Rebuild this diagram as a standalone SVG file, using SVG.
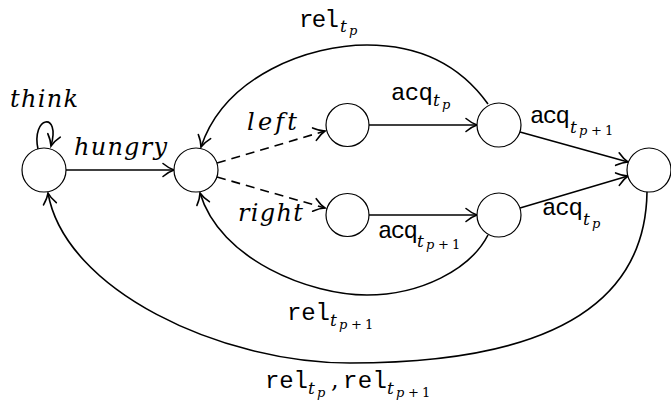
<svg xmlns="http://www.w3.org/2000/svg" width="671" height="402" viewBox="0 0 671 402">
<style>
.node{fill:#fff;stroke:#000;stroke-width:1.2}
.edge{fill:none;stroke:#000;stroke-width:1.6}
.dash{stroke-dasharray:9 6}
.mi{font-family:"DejaVu Serif","Liberation Serif",serif;font-style:italic}
.rm{font-family:"DejaVu Serif","Liberation Serif",serif}
.tt{font-family:"Liberation Mono","DejaVu Sans Mono",monospace;font-size:24px}
.s1{font-size:17px}
.s2{font-size:13px}
.big{font-size:24px}
</style>
<defs>
<marker id="arr" markerUnits="userSpaceOnUse" orient="auto" refX="0" refY="0" markerWidth="14" markerHeight="16" overflow="visible">
<path d="M -11 -6.5 C -7 -3.2, -2.5 -0.8, 0 0 C -2.5 0.8, -7 3.2, -11 6.5" fill="none" stroke="#000" stroke-width="1.6" stroke-linecap="round"/>
</marker>
</defs>
<g id="connectors">
<path class="edge" d="M 38 149 C 31 116, 61 111, 51 146" marker-end="url(#arr)"/>
<path class="edge" d="M 66 170 L 174 170" marker-end="url(#arr)"/>
<path class="edge dash" d="M 217 163 L 325 131" marker-end="url(#arr)"/>
<path class="edge dash" d="M 217 177 L 325 208" marker-end="url(#arr)"/>
<path class="edge" d="M 369 125 L 477 125" marker-end="url(#arr)"/>
<path class="edge" d="M 369 215 L 477 215" marker-end="url(#arr)"/>
<path class="edge" d="M 520 132 L 628 162" marker-end="url(#arr)"/>
<path class="edge" d="M 520 208 L 628 176" marker-end="url(#arr)"/>
<path class="edge" d="M 488 104 C 460 65, 420 45, 367 45 C 310 45, 225 75, 201 147" marker-end="url(#arr)"/>
<path class="edge" d="M 488 235 C 470 270, 420 295, 367 295 C 310 295, 220 260, 200 193" marker-end="url(#arr)"/>
<path class="edge" d="M 647 192 C 645 330, 500 363, 350 363 C 220 363, 65 290, 48 193" marker-end="url(#arr)"/>
</g>
<g id="n0"><circle class="node" cx="44" cy="170" r="22"/></g>
<g id="n1"><circle class="node" cx="196" cy="170" r="22"/></g>
<g id="n2"><circle class="node" cx="347.5" cy="125" r="21.5"/></g>
<g id="n3"><circle class="node" cx="347.5" cy="215" r="21.5"/></g>
<g id="n4"><circle class="node" cx="499" cy="125" r="22"/></g>
<g id="n5"><circle class="node" cx="499" cy="215" r="22"/></g>
<g id="n6"><circle class="node" cx="649" cy="170" r="22"/></g>
<g id="labels">
<text class="mi big" x="10" y="107" textLength="68">think</text>
<text class="mi big" x="74" y="155" textLength="93">hungry</text>
<text class="mi big" x="247" y="130" textLength="50">left</text>
<text class="mi big" x="238" y="221" textLength="65">right</text>
<text><tspan class="tt" x="299" y="27" textLength="40">rel</tspan><tspan class="mi s1" x="340" y="32">t</tspan><tspan class="mi s2" x="349" y="35">p</tspan></text>
<text><tspan class="tt" x="391" y="100" textLength="42">acq</tspan><tspan class="mi s1" x="433" y="106">t</tspan><tspan class="mi s2" x="442" y="109">p</tspan></text>
<text><tspan class="tt" x="530" y="123" textLength="40">acq</tspan><tspan class="mi s1" x="570" y="133">t</tspan><tspan class="mi s2" x="579" y="135">p</tspan><tspan class="rm s2" x="591" y="135">+</tspan><tspan class="rm s2" x="605" y="135">1</tspan></text>
<text><tspan class="tt" x="542" y="215" textLength="41">acq</tspan><tspan class="mi s1" x="583" y="225">t</tspan><tspan class="mi s2" x="592" y="228">p</tspan></text>
<text><tspan class="tt" x="378" y="238" textLength="40">acq</tspan><tspan class="mi s1" x="417" y="247">t</tspan><tspan class="mi s2" x="426" y="249">p</tspan><tspan class="rm s2" x="438" y="249">+</tspan><tspan class="rm s2" x="452" y="249">1</tspan></text>
<text><tspan class="tt" x="287" y="320" textLength="43">rel</tspan><tspan class="mi s1" x="330" y="326">t</tspan><tspan class="mi s2" x="339" y="329">p</tspan><tspan class="rm s2" x="351" y="329">+</tspan><tspan class="rm s2" x="365" y="329">1</tspan></text>
<text><tspan class="tt" x="265" y="388" textLength="43">rel</tspan><tspan class="mi s1" x="308" y="394">t</tspan><tspan class="mi s2" x="317" y="397">p</tspan><tspan class="rm big" x="331" y="388">,</tspan><tspan class="tt" x="343" y="388" textLength="44">rel</tspan><tspan class="mi s1" x="387" y="394">t</tspan><tspan class="mi s2" x="396" y="397">p</tspan><tspan class="rm s2" x="408" y="397">+</tspan><tspan class="rm s2" x="422" y="397">1</tspan></text>
</g>
</svg>
